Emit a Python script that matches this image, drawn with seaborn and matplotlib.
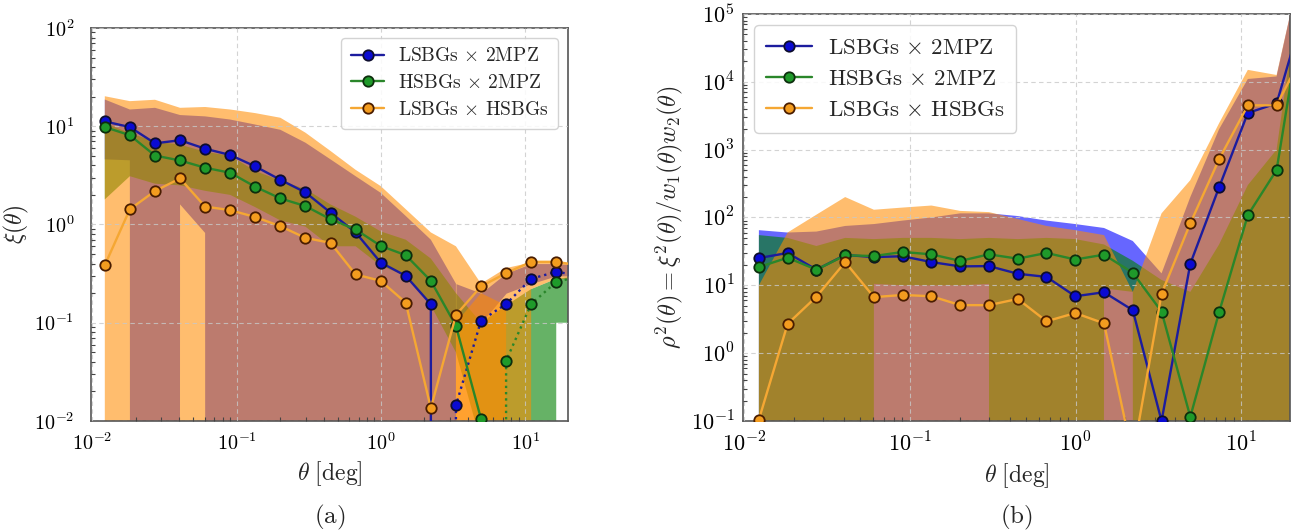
import numpy as np
import matplotlib
matplotlib.use("Agg")
import matplotlib.pyplot as plt
import seaborn as sns
from matplotlib.ticker import FuncFormatter, LogLocator, NullFormatter

# ---------------- data ----------------
theta = [0.01222, 0.01822, 0.02720, 0.04057, 0.06050, 0.09026, 0.1346, 0.2009,
         0.2996, 0.4470, 0.6668, 0.9947, 1.4838, 2.2135, 3.302, 4.926, 7.348,
         10.96, 16.35, 24.4]

labels = [r"$\mathrm{LSBGs}\,\times\,\mathrm{2MPZ}$",
          r"$\mathrm{HSBGs}\,\times\,\mathrm{2MPZ}$",
          r"$\mathrm{LSBGs}\,\times\,\mathrm{HSBGs}$"]

# panel (a): xi(theta)  (negative values are shown as |xi| with dotted lines)
xi_lsbg_2mpz = [11.2, 9.8, 6.7, 7.2, 5.9, 5.1, 3.9, 2.85, 2.12, 1.32, 0.83, 0.41,
                0.30, 0.154, -0.0144, -0.105, -0.155, -0.28, -0.33, -0.30]
xi_hsbg_2mpz = [9.8, 8.1, 5.03, 4.48, 3.78, 3.36, 2.42, 1.84, 1.54, 1.13, 0.89,
                0.605, 0.487, 0.267, 0.093, 0.0105, -0.041, -0.155, -0.26, -0.30]
xi_lsbg_hsbg = [0.385, 1.43, 2.19, 2.94, 1.52, 1.40, 1.19, 0.96, 0.73, 0.65, 0.31,
                0.267, 0.16, 0.0135, 0.12, 0.234, 0.32, 0.417, 0.417, 0.38]

# panel (a) uncertainty bands (lower, upper); non-positive = below axis
xi_lsbg_2mpz_lo = [4.6, 4.5, -1, 1.6, 0.82, -1, -1, -1, -1, -1, -1, -1, -1, -1,
                   -1, -1, -1, -1, -1, -1]
xi_lsbg_2mpz_hi = [18.7, 14.8, 15.4, 13.0, 12.6, 11.7, 10.4, 9.2, 6.8, 4.6, 3.1,
                   2.1, 1.22, 0.70, 0.25, -1, -1, -1, -1, -1]
xi_lsbg_2mpz_abs_lo = [np.nan] * 14 + [0.10, 0.10, 0.20, 0.25, 0.30, 0.30]
xi_lsbg_2mpz_abs_hi = [np.nan] * 14 + [0.25, 0.20, 0.32, 0.40, 0.40, 0.38]
xi_hsbg_2mpz_lo = [1.8, 3.1, 2.6, 2.5, 2.2, 2.0, 1.5, 1.1, 0.95, 0.6, 0.6, 0.38,
                   0.30, 0.15, 0.05, 0.006, 0.004, -1, 0.10, 0.10]
xi_hsbg_2mpz_hi = [10.8, 8.5, 7.0, 6.5, 5.5, 5.0, 3.5, 2.8, 2.3, 1.6, 1.2, 0.85,
                   0.70, 0.45, 0.20, 0.10, 0.15, 0.22, 0.28, 0.30]
xi_lsbg_hsbg_lo = [-1, -1, -1, -1, -1, -1, -1, -1, -1, -1, -1, -1, -1, -1, -1,
                   -1, -1, 0.22, 0.28, 0.28]
xi_lsbg_hsbg_hi = [20.2, 18.0, 18.6, 15.4, 15.7, 14.8, 13.6, 12.2, 8.6, 5.6, 3.6,
                   2.46, 1.43, 0.83, 0.60, 0.25, 0.36, 0.41, 0.42, 0.38]
xi_lsbg_hsbg_abs_lo = [np.nan] * 14 + [-1, -1, -1] + [np.nan] * 3
xi_lsbg_hsbg_abs_hi = [np.nan] * 14 + [0.10, 0.20, 0.15] + [np.nan] * 3

# panel (b): rho^2(theta)
rho_lsbg_2mpz = [25.2, 30, 17, 28, 26.1, 26.8, 22, 19, 19.2, 14.8, 13.3, 6.9,
                 7.9, 4.3, 0.1, 20.8, 278, 3470, 4800, 1.35e5]
rho_hsbg_2mpz = [18.6, 25.5, 17, 27.7, 27, 31, 28.6, 22.9, 28.6, 24.7, 30, 24,
                 28.3, 15.3, 4.1, 0.115, 4.0, 108, 500, 2.0e5]
rho_lsbg_hsbg = [0.105, 2.7, 6.8, 22, 6.7, 7.2, 6.9, 5.1, 5.1, 6.3, 2.95, 3.9,
                 2.75, 0.03, 7.5, 82, 720, 4500, 4500, 3.0e4]

rho_lsbg_2mpz_lo = [-1] * 20
rho_lsbg_2mpz_hi = [65, 60, 62, 75, 80, 90, 100, 115, 115, 105, 90, 80, 70, 45,
                    15, 200, 2000, 11000, 12000, 1e6]
rho_hsbg_2mpz_lo = [-1, -1, -1, -1, 10.5, 10, 10, 10, 10.5, -1, -1, -1, 9, 8,
                    -1, -1, -1, -1, -1, -1]
rho_hsbg_2mpz_hi = [55, 50, 38, 50, 48, 50, 50, 48, 50, 48, 50, 48, 40, 23, 12,
                    8, 40, 300, 1000, 1e6]
rho_lsbg_hsbg_lo = [-1] * 20
rho_lsbg_hsbg_hi = [10, 60, 110, 200, 130, 140, 150, 125, 120, 95, 75, 65, 55, 8,
                    115, 355, 2450, 15000, 12600, 1e6]

# ---------------- style ----------------
sns.set_theme(style="whitegrid")
plt.rcParams["mathtext.fontset"] = "cm"
plt.rcParams["font.family"] = ["DejaVu Serif"]
plt.rcParams["axes.unicode_minus"] = False

line_cols = ["#1c1c9e", "#2a862a", "#f5a733"]
face_cols = ["#0a0ad2", "#1f9a2a", "#f39c1f"]
edge_cols = ["#0d0d2e", "#0d2e0d", "#4a1d00"]
fill_cols = ["#0000ff", "#008000", "#ff8c00"]
fill_alpha = [0.6, 0.6, 0.57]

fig = plt.figure(figsize=(12.94, 5.31), dpi=100)
ax1 = fig.add_axes([0.0703, 0.2072, 0.3686, 0.7401])
ax2 = fig.add_axes([0.5742, 0.2072, 0.4227, 0.7665])

x = np.array(theta)


def band(ax, lo, hi, i):
    lo = np.array(lo, dtype=float)
    hi = np.array(hi, dtype=float)
    ok = ~(np.isnan(lo) | np.isnan(hi))
    ax.fill_between(x, np.nan_to_num(lo), np.nan_to_num(hi), where=ok,
                    color=fill_cols[i], alpha=fill_alpha[i], lw=0, zorder=1)


def curve(ax, y, i, ls="-", label=None):
    sns.lineplot(x=x, y=np.array(y, dtype=float), ax=ax, estimator=None,
                 sort=False, color=line_cols[i], linestyle=ls, lw=1.7,
                 marker="o", markersize=7.5, markerfacecolor=face_cols[i],
                 markeredgecolor=edge_cols[i], markeredgewidth=1.3,
                 label=label, zorder=3, legend=False)


# ---- panel (a) ----
band(ax1, xi_lsbg_2mpz_lo, xi_lsbg_2mpz_hi, 0)
band(ax1, xi_lsbg_2mpz_abs_lo, xi_lsbg_2mpz_abs_hi, 0)
band(ax1, xi_hsbg_2mpz_lo, xi_hsbg_2mpz_hi, 1)
band(ax1, xi_lsbg_hsbg_lo, xi_lsbg_hsbg_hi, 2)
band(ax1, xi_lsbg_hsbg_abs_lo, xi_lsbg_hsbg_abs_hi, 2)
for i, ys in enumerate([xi_lsbg_2mpz, xi_hsbg_2mpz, xi_lsbg_hsbg]):
    curve(ax1, ys, i, "-", labels[i])
    curve(ax1, -np.array(ys), i, ":")

# ---- panel (b) ----
band(ax2, rho_lsbg_2mpz_lo, rho_lsbg_2mpz_hi, 0)
band(ax2, rho_hsbg_2mpz_lo, rho_hsbg_2mpz_hi, 1)
band(ax2, rho_lsbg_hsbg_lo, rho_lsbg_hsbg_hi, 2)
for i, ys in enumerate([rho_lsbg_2mpz, rho_hsbg_2mpz, rho_lsbg_hsbg]):
    curve(ax2, ys, i, "-", labels[i])

fmt = FuncFormatter(lambda v, p: r"$10^{%d}$" % int(round(np.log10(v))))
panel_cfg = [(ax1, (1e-2, 1e2), 14.5, 17, 12), (ax2, (1e-1, 1e5), 16, 17, 6)]
for ax, ylim, tfs, lfs, ypad in panel_cfg:
    ax.set_xscale("log")
    ax.set_yscale("log")
    ax.set_xlim(0.0098, 19.7)
    ax.set_ylim(*ylim)
    ax.xaxis.set_major_locator(LogLocator(base=10, numticks=20))
    ax.yaxis.set_major_locator(LogLocator(base=10, numticks=20))
    ax.xaxis.set_minor_locator(LogLocator(base=10, subs=np.arange(2, 10), numticks=50))
    ax.yaxis.set_minor_locator(LogLocator(base=10, subs=np.arange(2, 10), numticks=50))
    ax.xaxis.set_major_formatter(fmt)
    ax.yaxis.set_major_formatter(fmt)
    ax.xaxis.set_minor_formatter(NullFormatter())
    ax.yaxis.set_minor_formatter(NullFormatter())
    ax.tick_params(which="both", direction="in", labelsize=tfs, colors="#222222")
    ax.tick_params(axis="x", which="major", length=0, pad=8)
    ax.tick_params(axis="y", which="major", length=0, pad=ypad)
    ax.tick_params(which="minor", length=3, width=0.8, colors="#444444",
                   bottom=True, left=True, top=False, right=False)
    for lab in ax.get_xticklabels() + ax.get_yticklabels():
        lab.set_color("black")
    ax.set_axisbelow(False)
    ax.grid(True, which="major", linestyle=(0, (4, 3)), color="#c8c8c8",
            linewidth=0.8, alpha=0.8)
    ax.grid(False, which="minor")
    for s in ax.spines.values():
        s.set_color("#555555")
        s.set_linewidth(1.2)
    ax.set_xlabel(r"$\theta\ [\mathrm{deg}]$", fontsize=lfs, labelpad=4)

ax1.set_ylabel(r"$\xi(\theta)$", fontsize=17, labelpad=2)
ax2.set_ylabel(r"$\rho^2(\theta) = \xi^2(\theta)/w_1(\theta)w_2(\theta)$",
               fontsize=17.5, labelpad=4)

leg1 = dict(fontsize=14, frameon=True, fancybox=True, framealpha=0.85,
            edgecolor="#cccccc", facecolor="white", handlelength=1.7,
            handletextpad=0.7, borderpad=0.5, labelspacing=0.45)
leg2 = dict(leg1, fontsize=16.5, handlelength=2.0, labelspacing=0.4)
h1, l1 = ax1.get_legend_handles_labels()
ax1.legend(h1, l1, loc="upper right", **leg1)
h2, l2 = ax2.get_legend_handles_labels()
ax2.legend(h2, l2, loc="upper left", **leg2)

fig.text(0.0703 + 0.3686 / 2, 0.026, r"$\mathrm{(a)}$", ha="center",
         va="center", fontsize=18)
fig.text(0.5742 + 0.4227 / 2, 0.026, r"$\mathrm{(b)}$", ha="center",
         va="center", fontsize=18)

fig.savefig("out.png", dpi=100)
